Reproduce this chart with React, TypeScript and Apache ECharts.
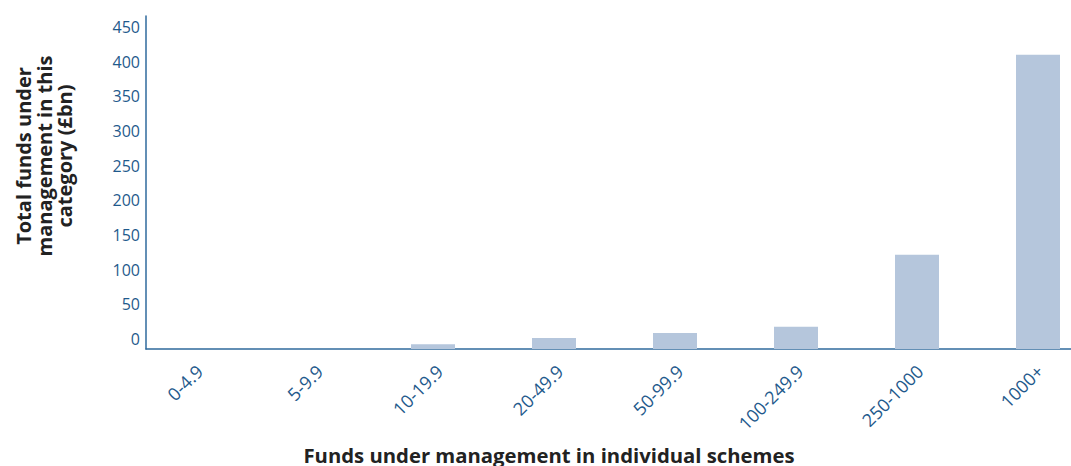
import React, { useEffect, useRef } from "react";
import * as echarts from "echarts";

const categories = ["0-4.9", "5-9.9", "10-19.9", "20-49.9", "50-99.9", "100-249.9", "250-1000", "1000+"];
const fundsBn = [0, 0, 7, 16, 23, 32, 136, 424];
const yMin = 0;
const yMax = 480;
const yInterval = 50;
const yLabelMax = 450;

const AXIS_COLOR = "#2f6a9c";
const LABEL_COLOR = "#1f5a8c";
const BAR_COLOR = "#b5c6dc";
const FONT = "'Open Sans', 'Noto Sans', sans-serif";

export default function App() {
  const ref = useRef<HTMLDivElement>(null);
  useEffect(() => {
    document.body.style.margin = "0";
    document.body.style.overflow = "hidden";
    document.documentElement.style.overflow = "hidden";
    if (!ref.current) return;
    const chart = echarts.init(ref.current, undefined, { renderer: "svg" });
    const gridTop = 16;
    const gridBottom = 466 - 349;
    chart.setOption({
      animation: false,
      grid: [
        { left: 130.5, width: 968, top: gridTop, bottom: gridBottom },
        { left: 146, right: 29, top: gridTop, bottom: gridBottom },
        { left: 139.5, width: 968, top: gridTop, bottom: gridBottom },
      ],
      xAxis: [
        {
          type: "category",
          gridIndex: 0,
          data: categories,
          axisLine: { show: false },
          axisTick: { show: false },
          axisLabel: { show: false },
        },
        {
          type: "value",
          gridIndex: 1,
          min: 0,
          max: 1,
          axisLine: { show: true, lineStyle: { color: AXIS_COLOR, width: 1.5 } },
          axisTick: { show: false },
          axisLabel: { show: false },
          splitLine: { show: false },
        },
        {
          type: "category",
          gridIndex: 2,
          data: categories,
          axisLine: { show: false },
          axisTick: { show: false },
          axisLabel: {
            rotate: 45,
            margin: 19,
            color: LABEL_COLOR,
            fontSize: 18,
            fontFamily: FONT,
            interval: 0,
          },
        },
      ],
      yAxis: [
        {
          type: "value",
          gridIndex: 0,
          min: yMin,
          max: yMax,
          interval: yInterval,
          axisLine: { show: false },
          axisTick: { show: false },
          axisLabel: { show: false },
          splitLine: { show: false },
        },
        {
          type: "value",
          gridIndex: 1,
          min: yMin,
          max: yMax,
          interval: yInterval,
          axisLine: { show: true, lineStyle: { color: AXIS_COLOR, width: 1.5 } },
          axisTick: { show: false },
          splitLine: { show: false },
          axisLabel: {
            color: LABEL_COLOR,
            fontSize: 16,
            fontFamily: FONT,
            margin: 6,
            verticalAlign: "bottom",
            lineHeight: 20,
            formatter: (v: number) => (v > yLabelMax ? "" : String(v)),
          },
        },
        {
          type: "value",
          gridIndex: 2,
          min: yMin,
          max: yMax,
          show: false,
        },
      ],
      series: [
        {
          type: "bar",
          xAxisIndex: 0,
          yAxisIndex: 0,
          data: fundsBn,
          barWidth: 44,
          itemStyle: { color: BAR_COLOR },
        },
      ],
      graphic: [
        {
          type: "text",
          x: 44,
          y: 156,
          rotation: Math.PI / 2,
          style: {
            text: "Total funds under\nmanagement in this\ncategory (£bn)",
            align: "center",
            verticalAlign: "middle",
            fontSize: 20,
            fontWeight: "bold",
            fontFamily: FONT,
            lineHeight: 20.5,
            fill: "#222222",
          },
        },
        {
          type: "text",
          x: 549,
          y: 455,
          style: {
            text: "Funds under management in individual schemes",
            align: "center",
            verticalAlign: "middle",
            fontSize: 20.3,
            fontWeight: "bold",
            fontFamily: FONT,
            fill: "#222222",
          },
        },
      ],
    });
    return () => chart.dispose();
  }, []);
  return <div ref={ref} style={{ width: 1100, height: 466 }} />;
}
